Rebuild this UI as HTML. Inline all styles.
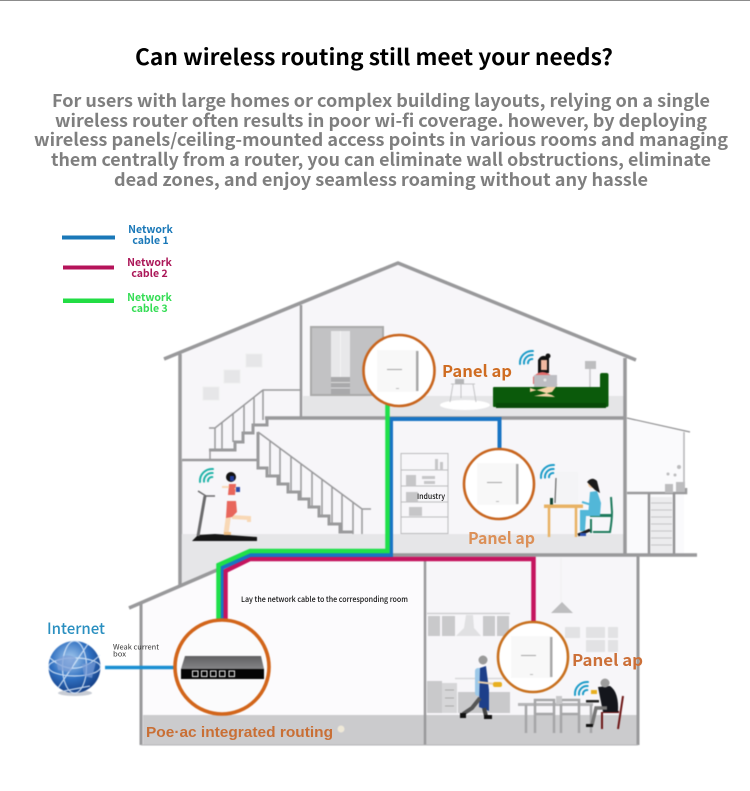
<!DOCTYPE html>
<html><head><meta charset="utf-8"><style>
html,body{margin:0;padding:0;background:#fff}
svg{display:block}
text{font-family:"Noto Sans CJK SC","Liberation Sans",sans-serif}
.art{filter:blur(.4px)}
</style></head><body>
<svg width="750" height="791" viewBox="0 0 750 791" xmlns="http://www.w3.org/2000/svg">
<defs>
<radialGradient id="g" cx="42%" cy="35%" r="70%"><stop offset="0" stop-color="#a9cdf0"/><stop offset=".55" stop-color="#2f6fc0"/><stop offset="1" stop-color="#123a80"/></radialGradient>
<linearGradient id="rt" x1="0" x2="0" y1="0" y2="1"><stop offset="0" stop-color="#5f5f61"/><stop offset="1" stop-color="#858587"/></linearGradient>
<g id="wifi" fill="none" stroke-width="2" stroke-linecap="round"><path d="M-12,1A12 12 0 0 1 1,-12"/><path d="M-8,.7A8 8 0 0 1 .7,-8"/><path d="M-4,.3A4 4 0 0 1 .3,-4"/></g>
<g id="panel"><rect x="-21" y="-21" width="41" height="42" fill="#f8f8f8"/><rect x="18" y="-20" width="2.500" height="40" fill="#a8a8a8"/><rect x="-11" y="-2" width="15" height="1" fill="#a5a5a5"/><rect x="-2" y="17" width="3" height="1" fill="#bbb"/></g>
</defs>
<rect width="750" height="791" fill="#fff"/>
<rect width="750" height="1" fill="#8c8c8c"/>

<text x="135" y="65" font-size="22" font-weight="700" fill="#000" textLength="478" lengthAdjust="spacingAndGlyphs">Can wireless routing still meet your needs?</text>
<g font-size="17.500" font-weight="700" fill="#7f7f7f">
<text x="52" y="107" textLength="658" lengthAdjust="spacingAndGlyphs">For users with large homes or complex building layouts, relying on a single</text>
<text x="55" y="127" textLength="652" lengthAdjust="spacingAndGlyphs">wireless router often results in poor wi-fi coverage. however, by deploying</text>
<text x="34" y="146" textLength="694" lengthAdjust="spacingAndGlyphs">wireless panels/ceiling-mounted access points in various rooms and managing</text>
<text x="51" y="166" textLength="660" lengthAdjust="spacingAndGlyphs">them centrally from a router, you can eliminate wall obstructions, eliminate</text>
<text x="114" y="186" textLength="534" lengthAdjust="spacingAndGlyphs">dead zones, and enjoy seamless roaming without any hassle</text>
</g>

<!-- legend -->
<rect x="62" y="235.500" width="53" height="4" fill="#1a78b8"/>
<rect x="63" y="265.500" width="51" height="4" fill="#b5135a"/>
<rect x="63" y="298.500" width="51" height="4.500" fill="#22dd44"/>
<g font-size="10.500" font-weight="700" text-anchor="middle">
<text x="150.500" y="233" fill="#1a78b8">Network</text><text x="150.500" y="244" fill="#1a78b8">cable 1</text>
<text x="149.500" y="266" fill="#ab1758">Network</text><text x="149.500" y="277" fill="#ab1758">cable 2</text>
<text x="149.500" y="301" fill="#35dd55">Network</text><text x="149.500" y="312" fill="#35dd55">cable 3</text>
</g>

<g class="art">
<!-- house fills -->
<polygon points="180,354 398,263 625,358 625,555 638,555 638,745 141,745 141,603 180,587" fill="#f7f6f9"/>
<polygon points="627,419 684,432 684,555 627,555" fill="#fafafc"/>
<polygon points="143,745 143,604 217,572 228,562 425,562 425,745" fill="#fcfbfd"/>
<!-- floors -->
<rect x="303" y="396" width="322" height="21" fill="#e5e5e7"/>
<polygon points="182,534 625,534 625,554 392,554 250,554 217,568 182,584" fill="#e6e6e8"/>
<rect x="143" y="715" width="282" height="30" fill="#cbcbcd"/>
<rect x="425" y="715" width="213" height="30" fill="#cbcbcd"/>

<!-- decorative wall tiles -->
<g fill="#e6e6e8" stroke="#eeeeee"><rect x="203" y="387" width="16" height="13"/><rect x="224" y="370" width="16" height="13"/><rect x="246" y="354" width="16" height="13"/></g>

<!-- wardrobe -->
<rect x="311" y="327" width="72" height="68" fill="#c2c2c4" stroke="#aaa" stroke-width="2"/>
<rect x="331" y="331" width="19" height="46" fill="#e8e8ea"/>
<rect x="340" y="331" width="1" height="46" fill="#f4f4f4"/>
<rect x="331" y="377" width="19" height="17" fill="#a9a9ab"/>
<path d="M331,382.500H350M331,388H350" stroke="#dcdcdc"/>

<!-- stairs -->
<g fill="none" stroke="#9a9a9c">
<path d="M209,450H235V442H243V433H253V425H267V418" stroke-width="3"/>
<path d="M209,428H215L263,390H301" stroke-width="1.500"/>
<path d="M215,428V450M222,422V450M233,413V442M244,405V433M254,397V425M263,390V420" stroke-width="1.500"/>
<path d="M210,450V460" stroke-width="1.500"/>
<path d="M258,432V468H267V476H278V484H288V492H299V499H309V507H319V516H329V524H340V532H353" stroke-width="3"/>
<path d="M258,432L362,509H371" stroke-width="1.500"/>
<path d="M270,441V476M280,448V484M291,456V492M301,464V499M312,472V507M322,479V516M332,487V524M342,494V532M353,502V534M362,509V534" stroke-width="1.500"/>
<path d="M182,460V534" stroke="#cfcfd1" stroke-width="1"/>
</g>

<!-- shelf -->
<g fill="none" stroke="#bcbcbe" stroke-width="1"><rect x="401" y="453.500" width="47" height="80"/><path d="M401,470H448M401,486H448M401,502H448M401,517H448"/></g>
<g fill="#c6c6c8"><rect x="406" y="475" width="10" height="11"/><rect x="422" y="476" width="13" height="3"/><rect x="424" y="481" width="11" height="3"/><rect x="406" y="492" width="12" height="10"/><rect x="409" y="507" width="13" height="9"/><rect x="435" y="459" width="3" height="11"/><rect x="440" y="462" width="3" height="8"/></g>

<!-- annex -->
<path d="M627,418L690,432" stroke="#8f8f91" stroke-width="1.200" fill="none"/>
<path d="M684,432V493" stroke="#b5b5b7" stroke-width="1.500" fill="none"/>
<path d="M627,493H686V488" stroke="#9a9a9c" stroke-width="2.500" fill="none"/>
<rect x="651" y="497" width="21" height="56" fill="#ececee"/>
<path d="M651,503H672M651,510H672M651,517H672M651,524H672M651,531H672M651,538H672M651,545H672" stroke="#c4c4c6"/>
<path d="M649,493V555M674,493V555" stroke="#949496" stroke-width="2.500"/>
<g fill="#bcbcbe"><rect x="665" y="484" width="8" height="9"/><rect x="676" y="482" width="9" height="10"/><circle cx="668" cy="474" r="1.500"/><circle cx="675" cy="475" r="1.500"/><circle cx="679" cy="467" r="2"/></g>

<!-- walls -->
<g fill="none" stroke="#99999b">
<path d="M164,359L398,263L636,360" stroke-width="3.500"/>
<path d="M180,354V585" stroke-width="3.500"/>
<path d="M301,305V418" stroke-width="2.500"/>
<path d="M265,418H625" stroke-width="3.500"/>
<path d="M625,358V555" stroke-width="3.500"/>
<path d="M182,460H258" stroke-width="2.500"/>
<path d="M392,555H697" stroke-width="3.500"/>
<path d="M638,555V745" stroke-width="3"/>
<path d="M425,558V745" stroke-width="2.500"/>
<path d="M129,608L217,570" stroke-width="3.500"/>
<path d="M141,603V745" stroke-width="3"/>
<path d="M141,745H638" stroke-width="1" stroke="#b5b5b7"/>
</g>

<!-- upper room furniture -->
<ellipse cx="465" cy="405" rx="25" ry="5" fill="#fff"/>
<g stroke="#c4c4c6" stroke-width="1" fill="none"><path d="M451,384H475M453,384L450,402M473,384L476,402M461,384V398"/></g>
<rect x="455" y="379" width="9" height="5" fill="#b5b5b7"/>
<path d="M590,369V387" stroke="#c8c8ca" stroke-width="1.500"/><rect x="585" y="361" width="11" height="8" fill="#bdbdbf"/>
<rect x="493" y="387" width="115" height="20" rx="1" fill="#0b5a0b"/>
<rect x="600" y="373" width="8.500" height="34" rx="2" fill="#0b5a0b"/>
<rect x="496" y="403" width="110" height="5" fill="#084a08"/>
<!-- sofa person -->
<path d="M538,373V360Q542,353 549,358V373Z" fill="#111"/><circle cx="548" cy="356" r="2.500" fill="#111"/>
<rect x="541" y="360" width="6" height="10" fill="#f0b8a0"/>
<path d="M533,377Q542,367 553,377V384H533Z" fill="#e36a6a"/>
<path d="M530,392L558,384L552,392L534,396L555,397L552,395L530,388Z" fill="#f6d3a6"/>
<rect x="534" y="375" width="23" height="12" fill="#bdbdc2"/><circle cx="545" cy="380" r="1.500" fill="#e8e8e8"/>
<use href="#wifi" x="532" y="363" stroke="#1a9bc8"/>

<!-- runner/treadmill -->
<polygon points="192,541 198,535 215,534 257,537 257,541" fill="#151515"/>
<path d="M198,536L205,496" stroke="#6b6b6d" stroke-width="3"/>
<path d="M198,491L206,496H215" stroke="#6b6b6d" stroke-width="1.500" fill="none"/>
<path d="M230,505L226,534" stroke="#f8d8b5" stroke-width="5"/><path d="M232,517L249,518V522" stroke="#f8d8b5" stroke-width="4" fill="none"/>
<rect x="224" y="532" width="7" height="3" fill="#efbf85"/>
<polygon points="227,501 236,501 237,512 232,517 226,518" fill="#e8665c"/>
<polygon points="229,484 236,484 235,495 228,495" fill="#e8665c"/>
<path d="M229,487L222,487M235,488L239,491" stroke="#f8d8b5" stroke-width="2"/>
<circle cx="231" cy="477" r="5" fill="#111"/><rect x="230" y="476" width="4" height="5" fill="#223c9a"/><rect x="236" y="487" width="4" height="5" fill="#2c4aa8"/>
<use href="#wifi" x="212" y="481" stroke="#1fb3a8"/>

<!-- desk person -->
<use href="#wifi" x="553" y="477" stroke="#1a9bc8"/>
<rect x="556" y="472" width="22" height="32" fill="#f4f4f6"/>
<path d="M556,478L555,503" stroke="#666" stroke-width="1.200"/>
<rect x="550" y="498" width="3" height="7" fill="#114433"/>
<rect x="544" y="504.500" width="39" height="3.500" fill="#e8b264"/>
<path d="M549,507V537M576,507V537" stroke="#e8b264" stroke-width="2.500"/>
<path d="M593,532H610Q612,520 612,512L611,497" fill="none" stroke="#1d7a5c" stroke-width="2"/>
<rect x="590" y="514" width="21" height="3" fill="#1d7a5c"/>
<path d="M591,519V533" stroke="#1d7a5c" stroke-width="2"/>
<polygon points="590,492 597,491 601,503 600,515 588,516" fill="#52b7d8"/>
<polygon points="580,510 600,510 600,516 586,516 585,531 580,531" fill="#52b7d8"/>
<path d="M578,535L590,530" stroke="#1a1a1a" stroke-width="3"/>
<rect x="580" y="533" width="6" height="3" fill="#2a4fb0"/>
<circle cx="592" cy="484" r="4" fill="#f0c8a0"/>
<path d="M587,482Q592,476 597,481L600,493L595,490Z" fill="#1b1b1b"/>
<path d="M592,505L582,502" stroke="#52b7d8" stroke-width="2"/>

<!-- kitchen -->
<path d="M427,613.500H510" stroke="#cfcfd1" stroke-width="1.500"/>
<g fill="#c9c9cb"><rect x="428" y="616" width="12" height="20"/><rect x="442" y="616" width="13" height="20"/><rect x="483" y="616" width="12" height="20"/><rect x="497" y="616" width="12" height="20"/></g>
<polygon points="466,615 473,615 474,628 481,636 456,636 464,628" fill="#e0e0e2"/>
<g fill="#c9c9cb"><rect x="427" y="681" width="15" height="32"/><rect x="458" y="692" width="52" height="21"/></g>
<rect x="442" y="683" width="15" height="30" fill="#d6d6d8"/>
<path d="M445,690H454M445,698H454M445,706H454" stroke="#aaa"/>
<path d="M455,678.500H505" stroke="#d8d8da" stroke-width="1.500"/>
<!-- window -->
<g fill="#e2e2e4"><rect x="565" y="627" width="15" height="11"/><rect x="586" y="627" width="19" height="11"/><rect x="608" y="627" width="10" height="11"/><rect x="586" y="640" width="19" height="12"/><rect x="608" y="640" width="10" height="12"/></g>
<path d="M561,558V602" stroke="#f0f0f0"/>
<polygon points="551,613 562,602 573,613" fill="#bdbdbf"/>
<!-- chef -->
<circle cx="483" cy="660" r="4.500" fill="#9a9a9a"/>
<rect x="475" y="668" width="10" height="28" rx="3" fill="#9cc8e8"/>
<polygon points="480,668 486,666 489,690 489,711 479,707" fill="#1d3f8a"/>
<path d="M478,682L495,684" stroke="#e8d0ae" stroke-width="2"/>
<rect x="493" y="682" width="9" height="5" rx="2" fill="#e8b020"/>
<path d="M480,698L472,708L463,714" stroke="#555" stroke-width="4" fill="none"/>
<path d="M484,708L486,716" stroke="#444" stroke-width="4"/>
<rect x="460" y="713" width="6" height="5" fill="#111"/><rect x="484" y="715" width="8" height="4" fill="#111"/>
<!-- table -->
<rect x="518" y="703" width="75" height="3" fill="#b5b5b7"/>
<g fill="none" stroke="#a6a6a8" stroke-width="2.500">
<path d="M526,705V733M591,705V733"/>
<path d="M535,733V700H554V733M561,733V700H579V733M535,714H554M561,714H579"/>
</g>
<rect x="556" y="696" width="6" height="8" fill="#c8c8ca"/>
<!-- seated man -->
<path d="M623,696L618,729M603,712H619M602,712V729" stroke="#6d1515" stroke-width="2" fill="none"/>
<path d="M598,687L610,686Q619,692 618,712H603Z" fill="#14161c"/>
<circle cx="605" cy="683" r="4.500" fill="#9d9d9d"/>
<path d="M607,708L596,708L592,725" stroke="#777" stroke-width="3.500" fill="none"/>
<rect x="586" y="724" width="7" height="3" fill="#111"/>
<rect x="586" y="700" width="13" height="2.500" fill="#222"/>
<rect x="591" y="690" width="6" height="4" fill="#e8b020"/>
<use href="#wifi" x="587" y="694" stroke="#1a9bc8"/>
<circle cx="341" cy="729" r="3.500" fill="#efe9d8"/>

<!-- cables -->
<g fill="none" stroke-linejoin="miter">
<path d="M225.500,622V571L250,559H533.500V624" stroke="#c5145e" stroke-width="4.500"/>
<path d="M221.500,622V568L250,555H391V419H499.500V449" stroke="#1874c4" stroke-width="4"/>
<path d="M218.500,622V565L250,551H387.500V404" stroke="#1fe04a" stroke-width="4.500"/>
<path d="M105,667.500H176" stroke="#1a8fd2" stroke-width="3.500"/>
</g>

<!-- circles -->
<circle cx="399" cy="370.500" r="35.500" fill="#fff" stroke="#c8651e" stroke-width="2.600"/>
<use href="#panel" x="398" y="371"/>
<circle cx="499" cy="484" r="35" fill="#fff" stroke="#c8651e" stroke-width="2.600"/>
<use href="#panel" x="498" y="484"/>
<circle cx="533" cy="657" r="35" fill="#fff" stroke="#c8701e" stroke-width="2.600"/>
<use href="#panel" x="532" y="657"/>
<circle cx="222" cy="667" r="47" fill="#fbfbfc" stroke="#d2651a" stroke-width="3.600"/>
<polygon points="185,656 261,656 264,669 181,669" fill="url(#rt)"/>
<rect x="181" y="669" width="83" height="10" fill="#050505"/>
<g fill="none" stroke="#eee" stroke-width="1"><rect x="192.500" y="671" width="5.500" height="5.500"/><rect x="201.500" y="671" width="5.500" height="5.500"/><rect x="210.500" y="671" width="5.500" height="5.500"/><rect x="219.500" y="671" width="5.500" height="5.500"/><rect x="229" y="671" width="5.500" height="5.500"/></g>

<!-- globe -->
<ellipse cx="75" cy="693" rx="17" ry="3" fill="#c8ccd4"/>
<circle cx="74.500" cy="667" r="26" fill="url(#g)"/>
<g fill="none" stroke="#dceafa" stroke-width="1.200" opacity=".85"><ellipse cx="74.500" cy="667" rx="26" ry="9"/><ellipse cx="74.500" cy="667" rx="12" ry="26"/><path d="M50,658Q75,680 100,655M58,688L88,644M64,691L90,686"/></g>
<path d="M56,660Q66,652 76,658L70,672L58,670ZM82,664L96,662L92,678L84,676Z" fill="#7a9cd6" opacity=".7"/>
</g>

<!-- labels -->
<text x="47" y="634" font-size="15.500" font-weight="500" fill="#2a8fc0" textLength="58" lengthAdjust="spacingAndGlyphs">Internet</text>
<g font-size="7" fill="#333"><text x="113" y="649.500" textLength="46" lengthAdjust="spacingAndGlyphs">Weak current</text><text x="113" y="656.500" textLength="13" lengthAdjust="spacingAndGlyphs">box</text></g>
<text x="241" y="602" font-size="7.500" font-weight="500" fill="#111" textLength="167" lengthAdjust="spacingAndGlyphs">Lay the network cable to the corresponding room</text>
<text x="417" y="499" font-size="7.500" font-weight="500" fill="#111" textLength="28" lengthAdjust="spacingAndGlyphs">Industry</text>
<g font-size="16" font-weight="700">
<text x="442" y="377" fill="#cf6c22" textLength="70" lengthAdjust="spacingAndGlyphs">Panel ap</text>
<text x="468" y="544" fill="#dc9058" textLength="67" lengthAdjust="spacingAndGlyphs">Panel ap</text>
<text x="572" y="666" fill="#cc7038" textLength="71" lengthAdjust="spacingAndGlyphs">Panel ap</text>
</g>
<text x="146" y="737" font-size="15" font-weight="700" fill="#c96f35" style="font-family:'Liberation Sans','Noto Sans CJK SC',sans-serif" textLength="187" lengthAdjust="spacingAndGlyphs">Poe·ac integrated routing</text>
</svg>
</body></html>
